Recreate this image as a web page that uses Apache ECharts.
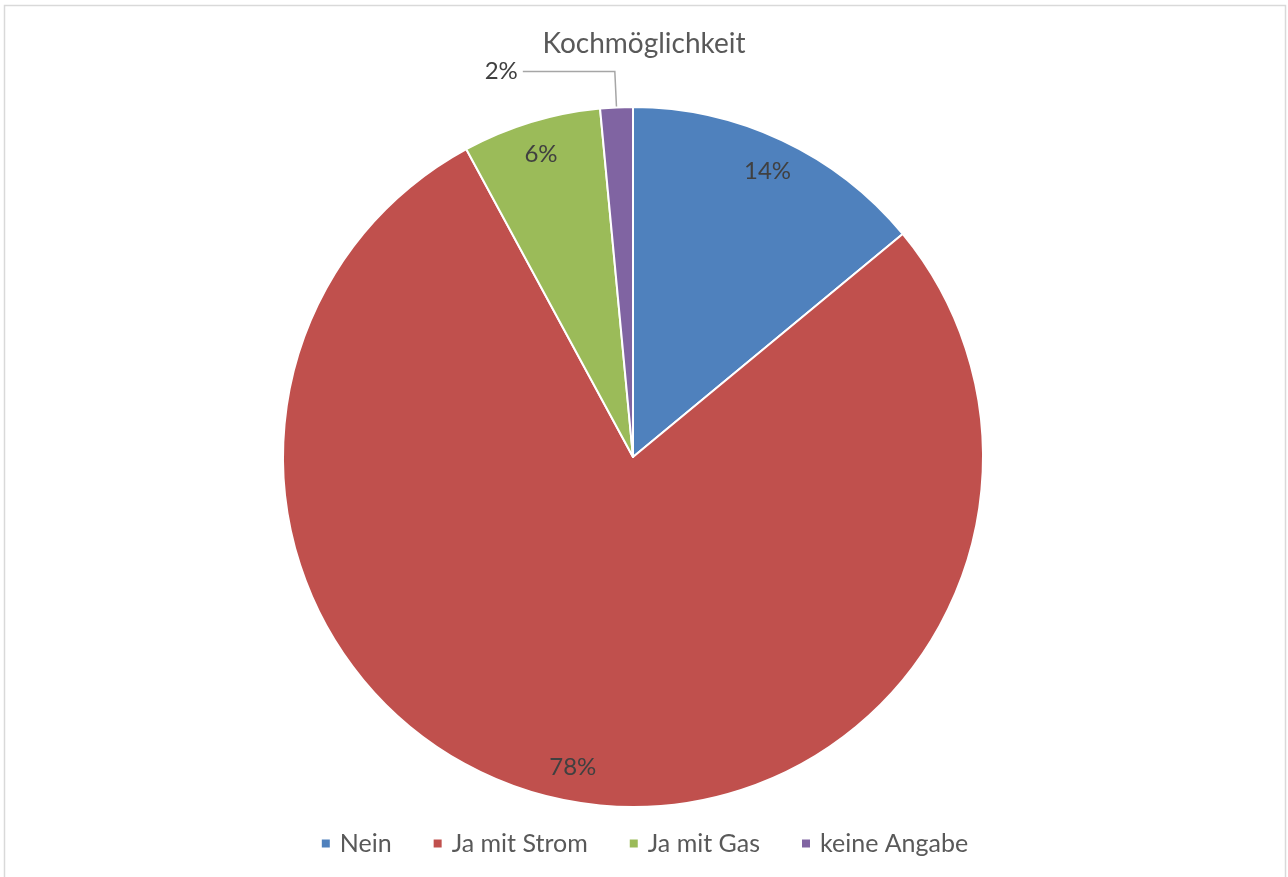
<!DOCTYPE html>
<html>
<head>
<meta charset="utf-8">
<script src="https://cdn.jsdelivr.net/npm/echarts@6/dist/echarts.min.js"></script>
<style>
html,body{margin:0;padding:0;background:#fff;}
#chart{width:1288px;height:877px;}
</style>
</head>
<body>
<div id="chart"></div>
<script>
const titleText = 'Kochmöglichkeit';
const categories = ['Nein', 'Ja mit Strom', 'Ja mit Gas', 'keine Angabe'];
const values = [14.0, 78.1, 6.4, 1.5];
const colors = ['#4F81BD', '#C0504D', '#9BBB59', '#8064A2'];

const FONT = 'Lato';
const chart = echarts.init(document.getElementById('chart'));

const mainData = categories.map((name, i) => {
  const d = { name: name, value: values[i], itemStyle: { color: colors[i] } };
  if (i === 3) {
    d.label = {
      show: true, position: 'outside', color: '#404040', fontSize: 24, fontFamily: FONT,
      formatter: p => Math.round(p.percent) + '%'
    };
    d.labelLine = { show: true, length: 36, length2: 92, lineStyle: { color: '#A6A6A6', width: 1.5 } };
  }
  return d;
});

const ringData = categories.map((name, i) => ({
  name: name, value: values[i],
  label: { show: i !== 3 }
}));

const pct = p => Math.round(p.percent) + '%';

chart.setOption({
  animation: false,
  backgroundColor: '#ffffff',
  title: {
    text: titleText, left: 'center', top: 25,
    textStyle: { color: '#595959', fontSize: 28, fontWeight: 'normal', fontFamily: FONT }
  },
  legend: {
    data: categories, bottom: 16, left: 'center',
    icon: 'rect', itemWidth: 10, itemHeight: 10, itemGap: 40,
    textStyle: { color: '#595959', fontSize: 25, fontFamily: FONT, padding: [0, 0, 0, 4] }
  },
  graphic: [{
    type: 'rect', shape: { x: 4.5, y: 5.5, width: 1281, height: 900 },
    style: { fill: 'none', stroke: '#D9D9D9', lineWidth: 1.5 }, silent: true, z: -10
  }],
  series: [
    {
      type: 'pie', name: 'main', center: [633, 457], radius: [0, 350],
      startAngle: 90, clockwise: true, silent: true,
      itemStyle: { borderColor: '#ffffff', borderWidth: 2 },
      label: { show: false },
      labelLine: { show: false },
      data: mainData
    },
    {
      type: 'pie', name: 'labels', center: [633, 457], radius: [276, 350],
      startAngle: 90, clockwise: true, silent: true,
      itemStyle: { color: 'rgba(0,0,0,0)', borderWidth: 0 },
      label: { show: true, position: 'inside', color: '#404040', fontSize: 24, fontFamily: FONT, formatter: pct },
      labelLine: { show: false },
      data: ringData
    }
  ]
});
</script>
</body>
</html>
